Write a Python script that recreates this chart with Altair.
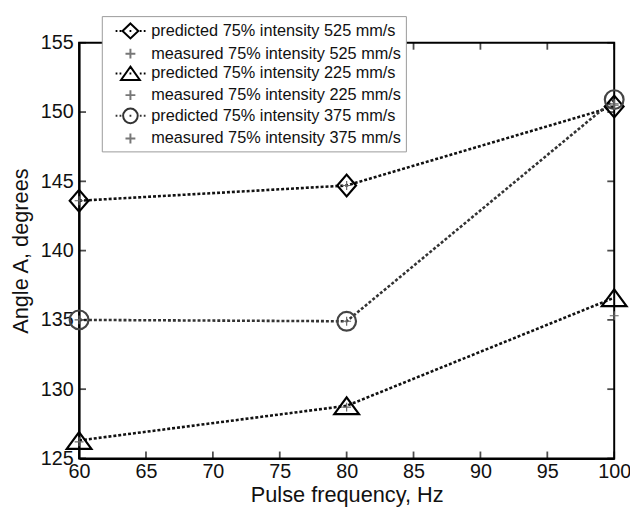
import altair as alt
import pandas as pd

# ---- data ----
freqs = [60, 80, 100]
pred_525 = [143.6, 144.7, 150.4]
meas_525 = [143.6, 144.7, 150.5]
pred_225 = [126.3, 128.8, 136.6]
meas_225 = [126.2, 128.7, 135.3]
pred_375 = [135.0, 134.9, 150.9]
meas_375 = [135.0, 134.9, 150.6]

labels = [
    "predicted 75% intensity 525 mm/s",
    "measured 75% intensity 525 mm/s",
    "predicted 75% intensity 225 mm/s",
    "measured 75% intensity 225 mm/s",
    "predicted 75% intensity 375 mm/s",
    "measured 75% intensity 375 mm/s",
]
x_ticks = [60, 65, 70, 75, 80, 85, 90, 95, 100]
y_ticks = [125, 130, 135, 140, 145, 150, 155]

series_values = [pred_525, meas_525, pred_225, meas_225, pred_375, meas_375]

rows = []
for lab, vals in zip(labels, series_values):
    kind = "predicted" if lab.startswith("predicted") else "measured"
    for f, v in zip(freqs, vals):
        rows.append({"freq": f, "angle": v, "label": lab, "kind": kind})
df = pd.DataFrame(rows)
pred = df[df.kind == "predicted"]
meas = df[df.kind == "measured"]

W, H = 542, 421
FONT = "Liberation Sans"

# ---- symbol paths (unit square scaled by sqrt(size)/2) ----
DIAMOND = "M0,-1.1L0.95,0L0,1.1L-0.95,0Z"
TRIANGLE = "M0,-0.85L1.25,0.85L-1.25,0.85Z"
CIRCLE = "M0.95,0A0.95,0.95 0 1,1 -0.95,0A0.95,0.95 0 1,1 0.95,0Z"
PLUS = "M-0.45,0H0.45M0,-0.45V0.45"


def dots(x0, x1, step=0.4, L=0.18):
    s = ""
    x = x0
    while x <= x1 + 1e-9:
        s += "M%.2f,0h%.2f" % (x, L)
        x += step
    return s


line_dots = dots(-1.5, -1.0) + dots(0.95, 1.35) + "M-0.09,0h0.18"
LEG_DIAMOND = "M0,-0.76L0.8,0L0,0.76L-0.8,0Z" + line_dots
LEG_TRIANGLE = "M0,-0.68L0.95,0.66L-0.95,0.66Z" + line_dots
LEG_CIRCLE = "M0.74,0A0.74,0.74 0 1,1 -0.74,0A0.74,0.74 0 1,1 0.74,0Z" + line_dots
LEG_PLUS = "M-0.5,0H0.5M0,-0.5V0.5"

pred_labels = [labels[0], labels[2], labels[4]]

xscale = alt.Scale(domain=[60, 100], nice=False, zero=False)
yscale = alt.Scale(domain=[125, 155], nice=False, zero=False)

xenc = alt.X("freq:Q", scale=xscale,
             axis=alt.Axis(values=x_ticks, title="Pulse frequency, Hz"))
yenc = alt.Y("angle:Q", scale=yscale,
             axis=alt.Axis(values=y_ticks, title="Angle A, degrees"))

lines = alt.Chart(pred).mark_line(strokeDash=[3, 2], strokeWidth=2.6).encode(
    x=xenc, y=yenc,
    detail="label:N",
    color=alt.Color("label:N", scale=alt.Scale(domain=pred_labels,
                                               range=["#111", "#111", "#333"]),
                    legend=None),
)

pred_pts = alt.Chart(pred).mark_point(size=400, strokeWidth=2.2, opacity=1).encode(
    x="freq:Q", y="angle:Q",
    shape=alt.Shape("label:N", scale=alt.Scale(domain=pred_labels,
                                               range=[DIAMOND, TRIANGLE, CIRCLE]),
                    legend=None),
    color=alt.Color("label:N", scale=alt.Scale(domain=pred_labels,
                                               range=["#000", "#000", "#444"]),
                    legend=None),
)

meas_pts = alt.Chart(meas).mark_point(size=400, strokeWidth=1.2, color="#666",
                                      shape=PLUS, opacity=1).encode(
    x="freq:Q", y="angle:Q",
)

legend_layer = alt.Chart(df).mark_point(size=400, opacity=0).encode(
    x="freq:Q", y="angle:Q",
    shape=alt.Shape("label:N", sort=None,
                    scale=alt.Scale(domain=labels,
                                    range=[LEG_DIAMOND, LEG_PLUS, LEG_TRIANGLE,
                                           LEG_PLUS, LEG_CIRCLE, LEG_PLUS]),
                    legend=alt.Legend(title=None, orient="none",
                                      legendX=23, legendY=-27,
                                      symbolOpacity=1, symbolStrokeWidth=2,
                                      symbolSize=400,
                                      labelFont=FONT, labelFontSize=16.5,
                                      labelColor="#111",
                                      padding=4, symbolOffset=14,
                                      labelOffset=10, rowPadding=0,
                                      strokeColor="#999", fillColor="white",
                                      labelLimit=400)),
    color=alt.Color("label:N", sort=None,
                    scale=alt.Scale(domain=labels,
                                    range=["#000", "#777", "#000", "#777",
                                           "#333", "#777"])),
)

ytick_df = pd.DataFrame({"angle": y_ticks})
xtick_df = pd.DataFrame({"freq": x_ticks})
yt_left = alt.Chart(ytick_df).mark_tick(size=7, thickness=1.8, color="black").encode(
    y="angle:Q", x=alt.value(3.5))
yt_right = alt.Chart(ytick_df).mark_tick(size=7, thickness=1.8, color="black").encode(
    y="angle:Q", x=alt.value(W - 3.5))
xt_bot = alt.Chart(xtick_df).mark_tick(size=7, thickness=1.8, color="black").encode(
    x="freq:Q", y=alt.value(H - 3.5))
xt_top = alt.Chart(xtick_df).mark_tick(size=7, thickness=1.8, color="black").encode(
    x="freq:Q", y=alt.value(3.5))

chart = alt.layer(
    lines, yt_left, yt_right, xt_bot, xt_top, pred_pts, meas_pts, legend_layer
).resolve_scale(
    shape="independent", color="independent"
).properties(
    width=W, height=H,
    background="white",
    autosize=alt.AutoSizeParams(type="none"),
    padding={"left": 72, "top": 32, "right": 16, "bottom": 50},
).configure_view(
    stroke="black", strokeWidth=2, fill="white"
).configure_axis(
    grid=False, ticks=False, tickSize=0, labelFlush=False,
    domainColor="black", domainWidth=2,
    labelFont=FONT, labelFontSize=20, labelColor="#111",
    titleFont=FONT, titleFontSize=22, titleFontWeight="normal",
    titleColor="#111",
).configure_axisX(
    labelPadding=3, titlePadding=4,
).configure_axisY(
    labelPadding=6, titlePadding=8,
)

chart.save("out.html", embed_options={"renderer": "svg", "actions": False})
